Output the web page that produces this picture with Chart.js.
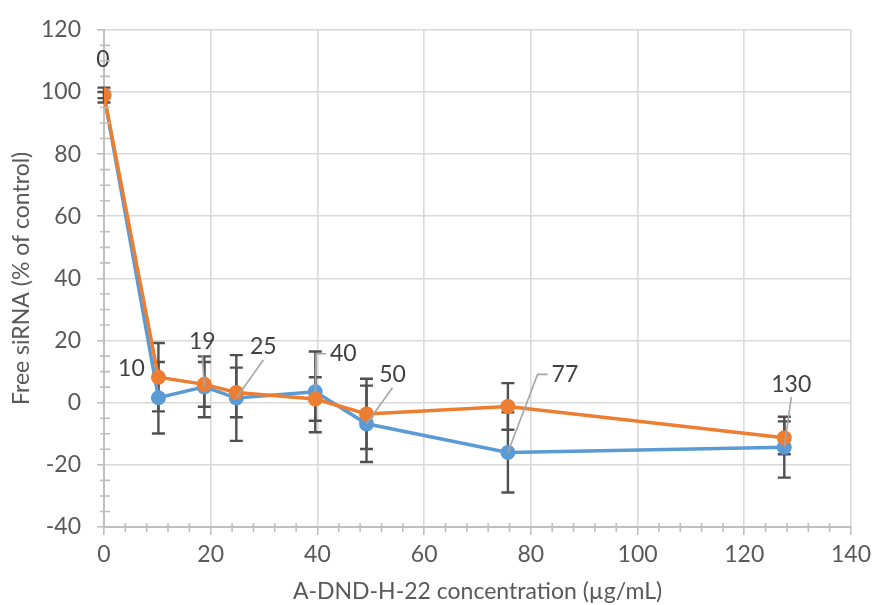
<!DOCTYPE html>
<html>
<head>
<meta charset="utf-8">
<script src="https://cdn.jsdelivr.net/npm/chart.js@4"></script>
<style>
  html, body { margin: 0; padding: 0; background: #fff; }
  #wrap { width: 877px; height: 605px; }
</style>
</head>
<body>
<div id="wrap"><canvas id="chart" width="877" height="605"></canvas></div>
<script>
// Data
const concentrations = [0, 10.2, 18.8, 24.8, 39.6, 49.2, 75.7, 127.5];
const blueValues = [99, 1.6, 5.1, 1.5, 3.5, -6.8, -16, -14.3];
const orangeValues = [99, 8.2, 5.9, 3.3, 1.2, -3.6, -1.2, -11.3];
const blueErrors = [2.4, 11.5, 9.8, 13.8, 13, 12.3, 12.9, 9.8];
const orangeErrors = [1, 11, 7.2, 8, 7, 11.3, 7.5, 5.3];
const pointLabels = ['0', '10', '19', '25', '40', '50', '77', '130'];
const xTicks = [0, 20, 40, 60, 80, 100, 120, 140];
const yTicks = [-40, -20, 0, 20, 40, 60, 80, 100, 120];

// label placement relative to blue points (px), and leader style
const labelOffsets = [[-1, -35], [-27, -29], [-2, -45], [27, -51], [28, -38], [26, -49], [57, -78], [7, -63]];
const leaderKinds = ['none', 'none', 'bottom', 'bottom', 'left', 'bottom', 'left', 'bottom'];

const BLUE = '#5B9BD5', ORANGE = '#ED7D31';
const FONT = 'Lato, "Open Sans", sans-serif';
const FS = 23;

const errorBars = {
  id: 'errorBars',
  beforeDatasetsDraw(chart) {
    const {ctx, scales: {x, y}} = chart;
    ctx.save();
    ctx.strokeStyle = '#505050'; ctx.lineWidth = 2.4;
    [[blueValues, blueErrors], [orangeValues, orangeErrors]].forEach(([vals, errs]) => {
      vals.forEach((v, i) => {
        const px = x.getPixelForValue(concentrations[i]);
        const top = y.getPixelForValue(v + errs[i]);
        const bot = y.getPixelForValue(v - errs[i]);
        ctx.beginPath();
        ctx.moveTo(px, top); ctx.lineTo(px, bot);
        ctx.moveTo(px - 6.5, top); ctx.lineTo(px + 6.5, top);
        ctx.moveTo(px - 6.5, bot); ctx.lineTo(px + 6.5, bot);
        ctx.stroke();
      });
    });
    ctx.restore();
  }
};

const minorTicks = {
  id: 'minorTicks',
  afterDraw(chart) {
    const {ctx, scales: {x, y}, chartArea: a} = chart;
    ctx.save();
    ctx.strokeStyle = '#BFBFBF'; ctx.lineWidth = 1.6;
    ctx.beginPath();
    for (let v = 0; v <= 140; v += 4) {
      if (v % 20 === 0) continue;
      const px = x.getPixelForValue(v);
      ctx.moveTo(px, a.bottom - 4); ctx.lineTo(px, a.bottom + 5);
    }
    for (let v = -40; v <= 120; v += 5) {
      if (v % 20 === 0) continue;
      const py = y.getPixelForValue(v);
      ctx.moveTo(a.left - 4, py); ctx.lineTo(a.left + 6, py);
    }
    ctx.stroke();
    ctx.restore();
  }
};

const pointLabelsPlugin = {
  id: 'pointLabels',
  afterDatasetsDraw(chart) {
    const {ctx, scales: {x, y}} = chart;
    ctx.save();
    ctx.font = FS + 'px ' + FONT;
    ctx.textAlign = 'center'; ctx.textBaseline = 'middle';
    pointLabels.forEach((txt, i) => {
      const px = x.getPixelForValue(concentrations[i]);
      const py = y.getPixelForValue(blueValues[i]);
      const lx = px + labelOffsets[i][0], ly = py + labelOffsets[i][1];
      const w = ctx.measureText(txt).width;
      ctx.strokeStyle = '#A6A6A6'; ctx.lineWidth = 1.6;
      if (leaderKinds[i] === 'bottom') {
        ctx.beginPath(); ctx.moveTo(lx, ly + 13); ctx.lineTo(px, py); ctx.stroke();
      } else if (leaderKinds[i] === 'left') {
        ctx.beginPath();
        ctx.moveTo(lx - w / 2 - 4, ly); ctx.lineTo(lx - w / 2 - 14, ly); ctx.lineTo(px, py);
        ctx.stroke();
      }
      ctx.fillStyle = '#404040';
      ctx.fillText(txt, lx, ly);
    });
    ctx.restore();
  }
};

const toPoints = vals => vals.map((v, i) => ({x: concentrations[i], y: v}));

new Chart(document.getElementById('chart'), {
  type: 'scatter',
  data: {
    datasets: [
      {label: 'A', data: toPoints(blueValues), showLine: true, borderColor: BLUE, backgroundColor: BLUE,
       borderWidth: 3.5, pointRadius: 7.5, pointBorderWidth: 0, order: 2},
      {label: 'B', data: toPoints(orangeValues), showLine: true, borderColor: ORANGE, backgroundColor: ORANGE,
       borderWidth: 3.5, pointRadius: 7.5, pointBorderWidth: 0, order: 1}
    ]
  },
  options: {
    responsive: false, animation: false,
    layout: {padding: {top: 24, right: 22, left: 0, bottom: 0}},
    plugins: {legend: {display: false}, tooltip: {enabled: false}},
    scales: {
      x: {
        type: 'linear', min: 0, max: 140,
        afterBuildTicks: s => { s.ticks = xTicks.map(v => ({value: v})); },
        afterFit: s => { s.height = 78; },
        grid: {color: '#D9D9D9', lineWidth: 1.6, tickColor: '#BFBFBF', tickLength: 8},
        border: {color: '#BFBFBF', width: 2},
        ticks: {color: '#595959', font: {family: FONT, size: FS}, padding: 6, maxRotation: 0},
        title: {display: true, text: 'A-DND-H-22 concentration (µg/mL)', color: '#595959',
                font: {family: FONT, size: FS}, padding: {top: 0, bottom: 0}}
      },
      y: {
        type: 'linear', min: -40, max: 120,
        afterBuildTicks: s => { s.ticks = yTicks.map(v => ({value: v})); },
        afterFit: s => { s.width = 104; },
        grid: {color: '#D9D9D9', lineWidth: 1.6, tickColor: '#BFBFBF', tickLength: 7},
        border: {color: '#BFBFBF', width: 2},
        ticks: {color: '#595959', font: {family: FONT, size: FS}, padding: 16},
        title: {display: true, text: 'Free siRNA (% of control)', color: '#595959',
                font: {family: FONT, size: FS}, padding: {top: 8, bottom: 0}}
      }
    }
  },
  plugins: [errorBars, minorTicks, pointLabelsPlugin]
});
</script>
</body>
</html>
